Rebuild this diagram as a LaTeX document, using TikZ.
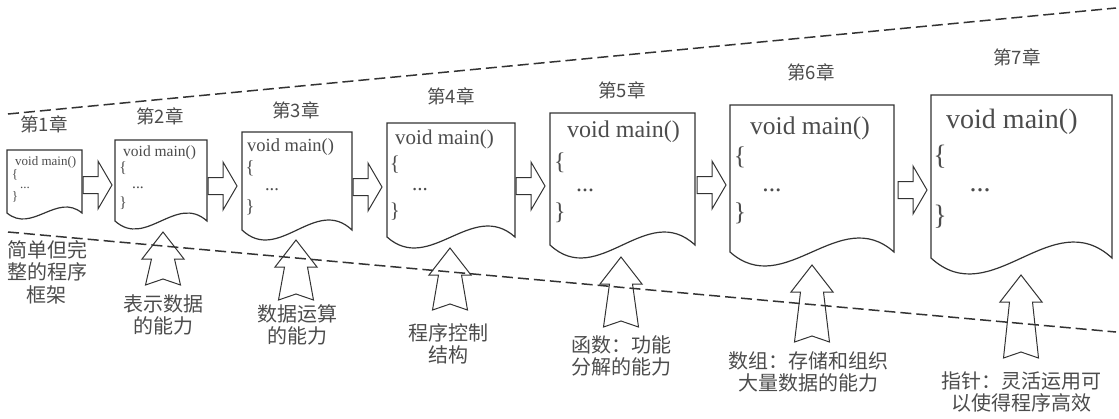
\documentclass[tikz,border=0pt]{standalone}
\usepackage{fontspec}
\setmainfont{Liberation Serif}
\newfontfamily\cjk{Noto Sans CJK SC}
\usetikzlibrary{calc}
\definecolor{ink}{gray}{0.2}
\definecolor{txt}{gray}{0.3}
\tikzset{
  docnode/.style={draw=none, inner sep=0pt, outer sep=0pt},
  docline/.style={draw=ink, line width=1.2pt, line join=miter, fill=white},
  dashline/.style={draw=ink, line width=1.5pt, dash pattern=on 11pt off 5pt},
  arrline/.style={draw=ink, line width=1pt, line join=miter},
  code/.style={inner sep=0pt, text=txt},
  chap/.style={inner sep=0pt, text=txt, font=\cjk\fontsize{18.5}{19}\selectfont},
  lab/.style={inner sep=0pt, text=txt, align=center, font=\cjk\fontsize{20}{22.5}\selectfont},
  rarr/.pic={\draw[arrline] (0,-8.5) -- (15,-8.5) -- (15,-24) -- (29,0) -- (15,24) -- (15,8.5) -- (0,8.5) -- cycle;},
  pics/uarr/.style={code={\draw[arrline] (0,0) -- (21,27) -- (11.5,27) -- (17.5,#1) -- (0,#1-6) -- (-17.5,#1) -- (-11.5,27) -- (-21,27) -- cycle;}}
}
\newcommand\docwave[2]{%
  \draw[docline] (#1.south east) -- (#1.north east) -- (#1.north west) -- (#1.south west)
   .. controls ($(#1.south west)!0.3333!(#1.south east)+(0,3.46*#2)$) and ($(#1.south west)!0.6667!(#1.south east)+(0,-3.46*#2)$) .. (#1.south east) -- cycle;}
\begin{document}
\begin{tikzpicture}[x=1pt,y=-1pt]
\useasboundingbox (0,0) rectangle (1119,418);

% dashed guide lines
\coordinate (tl) at (8,114);
\coordinate (tr) at (1116,8);
\coordinate (bl) at (8,232);
\coordinate (br) at (1116,332);
\draw[dashline] (tl) -- (tr);
\draw[dashline] (bl) -- (br);

% documents
\node[docnode, minimum width=75pt,  minimum height=63pt]  (d1) at (44.5,181.5) {};
\node[docnode, minimum width=92pt,  minimum height=81pt]  (d2) at (161,180.5) {};
\node[docnode, minimum width=110pt, minimum height=98pt]  (d3) at (297,181) {};
\node[docnode, minimum width=128pt, minimum height=114pt] (d4) at (451,180) {};
\node[docnode, minimum width=145pt, minimum height=132pt] (d5) at (622.5,179) {};
\node[docnode, minimum width=164pt, minimum height=147pt] (d6) at (812,178.5) {};
\node[docnode, minimum width=181pt, minimum height=163pt] (d7) at (1021.5,176.5) {};
\docwave{d1}{6}
\docwave{d2}{8}
\docwave{d3}{10}
\docwave{d4}{11}
\docwave{d5}{13}
\docwave{d6}{14}
\docwave{d7}{16}

% code text
\node[code, anchor=base west, font=\fontsize{13}{14}\selectfont] (c1a) at (15,165) {void main()};
\node[code, font=\fontsize{13}{14}\selectfont] (c1b) at (15,175) {\{};
\node[code, font=\fontsize{13}{14}\selectfont] (c1c) at (25,188) {...};
\node[code, font=\fontsize{13}{14}\selectfont] (c1d) at (15,197) {\}};

\node[code, anchor=base west, font=\fontsize{15.5}{16}\selectfont] (c2a) at (123,156) {void main()};
\node[code, font=\fontsize{15.5}{16}\selectfont] (c2b) at (123,168) {\{};
\node[code, font=\fontsize{15.5}{16}\selectfont] (c2c) at (138,188) {...};
\node[code, font=\fontsize{15.5}{16}\selectfont] (c2d) at (123,203) {\}};

\node[code, anchor=base west, font=\fontsize{18.5}{19}\selectfont] (c3a) at (247,151) {void main()};
\node[code, font=\fontsize{18.5}{19}\selectfont] (c3b) at (250,168) {\{};
\node[code, font=\fontsize{18.5}{19}\selectfont] (c3c) at (272,190) {...};
\node[code, font=\fontsize{18.5}{19}\selectfont] (c3d) at (250,207) {\}};

\node[code, anchor=base west, font=\fontsize{21}{22}\selectfont] (c4a) at (395,144) {void main()};
\node[code, font=\fontsize{21}{22}\selectfont] (c4b) at (395,165) {\{};
\node[code, font=\fontsize{21}{22}\selectfont] (c4c) at (420,190) {...};
\node[code, font=\fontsize{21}{22}\selectfont] (c4d) at (395,212) {\}};

\node[code, anchor=base west, font=\fontsize{24}{25}\selectfont] (c5a) at (567,137) {void main()};
\node[code, font=\fontsize{24}{25}\selectfont] (c5b) at (560,163) {\{};
\node[code, font=\fontsize{24}{25}\selectfont] (c5c) at (585,190) {...};
\node[code, font=\fontsize{24}{25}\selectfont] (c5d) at (560,213) {\}};

\node[code, anchor=base west, font=\fontsize{25.5}{26}\selectfont] (c6a) at (750,134) {void main()};
\node[code, font=\fontsize{25.5}{26}\selectfont] (c6b) at (740,157) {\{};
\node[code, font=\fontsize{25.5}{26}\selectfont] (c6c) at (772,190) {...};
\node[code, font=\fontsize{25.5}{26}\selectfont] (c6d) at (740,213) {\}};

\node[code, anchor=base west, font=\fontsize{28}{29}\selectfont] (c7a) at (946,128) {void main()};
\node[code, font=\fontsize{28}{29}\selectfont] (c7b) at (940,157) {\{};
\node[code, font=\fontsize{28}{29}\selectfont] (c7c) at (980,190) {...};
\node[code, font=\fontsize{28}{29}\selectfont] (c7d) at (940,217) {\}};

% chapter titles
\node[chap] (t1) at (44,124) {第1章};
\node[chap] (t2) at (160,116) {第2章};
\node[chap] (t3) at (296,110) {第3章};
\node[chap] (t4) at (451,96) {第4章};
\node[chap] (t5) at (622,90) {第5章};
\node[chap] (t6) at (811,72) {第6章};
\node[chap] (t7) at (1017,57) {第7章};

% right block arrows
\pic at (83,185) {rarr};
\pic at (208,186) {rarr};
\pic at (353,187) {rarr};
\pic at (516,186) {rarr};
\pic at (697,185) {rarr};
\pic at (898,190) {rarr};

% up block arrows
\pic at (163,232) {uarr=53};
\pic at (296,240) {uarr=60};
\pic at (450,248) {uarr=62};
\pic at (621,257) {uarr=70};
\pic at (812,265) {uarr=77};
\pic at (1021,275) {uarr=83};

% labels
\node[lab] (l1) at (47,272) {简单但完\\整的程序\\框架};
\node[lab] (l2) at (163,315) {表示数据\\的能力};
\node[lab] (l3) at (297,325) {数据运算\\的能力};
\node[lab] (l4) at (448,344) {程序控制\\结构};
\node[lab] (l5) at (621,356) {函数：功能\\分解的能力};
\node[lab] (l6) at (808,372) {数组：存储和组织\\大量数据的能力};
\node[lab] (l7) at (1021,392) {指针：灵活运用可\\以使得程序高效};
\end{tikzpicture}
\end{document}
